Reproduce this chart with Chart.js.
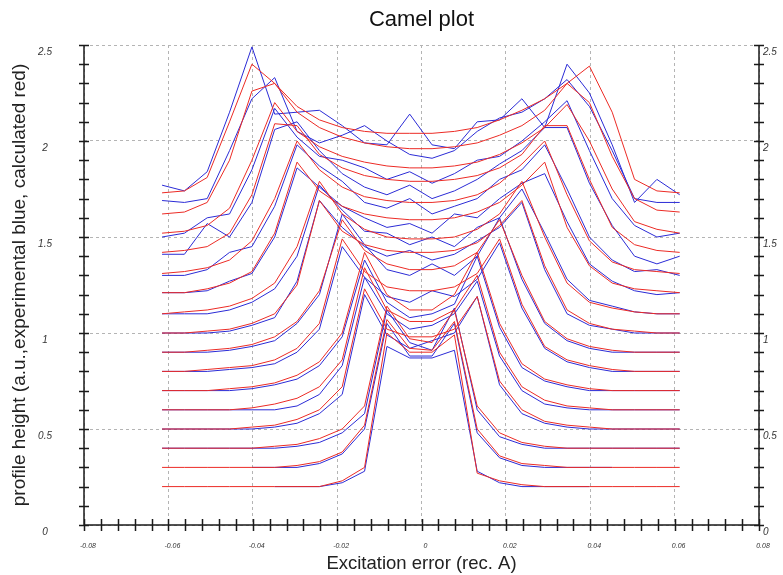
<!DOCTYPE html>
<html>
<head>
<meta charset="utf-8">
<script src="https://cdn.jsdelivr.net/npm/chart.js@4.4.1/dist/chart.umd.min.js"></script>
<style>
  html, body { margin: 0; padding: 0; background: #fff; }
  #wrap { width: 783px; height: 575px; }
</style>
</head>
<body>
<div id="wrap"><canvas id="camel"></canvas></div>
<script>
// excitation error sample positions (rec. A)
const xs = [-0.0615, -0.0562, -0.0508, -0.0455, -0.0402, -0.0348, -0.0295, -0.0242,
  -0.0188, -0.0135, -0.0082, -0.0028, 0.0025, 0.0078, 0.0132, 0.0185,
  0.0238, 0.0292, 0.0345, 0.0398, 0.0452, 0.0505, 0.0558, 0.0612];

const xTicks = [-0.08, -0.06, -0.04, -0.02, 0, 0.02, 0.04, 0.06, 0.08];
const yTicks = [0, 0.5, 1, 1.5, 2, 2.5];

// calculated profiles (red), bottom to top
const calc00 = [0.20, 0.20, 0.20, 0.20, 0.20, 0.20, 0.20, 0.20, 0.23, 0.30, 1.00, 0.90, 0.90, 0.99, 0.27, 0.23, 0.21, 0.20, 0.20, 0.20, 0.20, 0.20, 0.20, 0.20];
const calc01 = [0.30, 0.30, 0.30, 0.30, 0.30, 0.30, 0.31, 0.33, 0.38, 0.52, 1.07, 0.92, 0.91, 1.06, 0.50, 0.36, 0.32, 0.31, 0.30, 0.30, 0.30, 0.30, 0.30, 0.30];
const calc02 = [0.40, 0.40, 0.40, 0.40, 0.40, 0.41, 0.42, 0.45, 0.50, 0.62, 1.14, 0.97, 0.95, 1.12, 0.62, 0.48, 0.43, 0.41, 0.40, 0.40, 0.40, 0.40, 0.40, 0.40];
const calc03 = [0.50, 0.50, 0.50, 0.50, 0.51, 0.52, 0.55, 0.60, 0.72, 1.23, 1.02, 0.98, 0.98, 1.02, 1.19, 0.75, 0.60, 0.54, 0.52, 0.51, 0.50, 0.50, 0.50, 0.50];
const calc04 = [0.60, 0.60, 0.60, 0.60, 0.61, 0.63, 0.66, 0.72, 0.86, 1.34, 1.12, 1.06, 1.06, 1.12, 1.30, 0.90, 0.72, 0.65, 0.62, 0.61, 0.60, 0.60, 0.60, 0.60];
const calc05 = [0.70, 0.70, 0.70, 0.71, 0.72, 0.74, 0.78, 0.85, 1.00, 1.42, 1.20, 1.12, 1.12, 1.20, 1.42, 1.05, 0.84, 0.76, 0.73, 0.71, 0.70, 0.70, 0.70, 0.70];
const calc06 = [0.80, 0.80, 0.81, 0.82, 0.83, 0.86, 0.92, 1.05, 1.49, 1.32, 1.24, 1.22, 1.22, 1.24, 1.31, 1.49, 1.15, 0.93, 0.86, 0.83, 0.81, 0.80, 0.80, 0.80];
const calc07 = [0.90, 0.90, 0.91, 0.92, 0.94, 0.98, 1.06, 1.22, 1.59, 1.43, 1.36, 1.33, 1.33, 1.35, 1.42, 1.59, 1.30, 1.06, 0.97, 0.93, 0.91, 0.90, 0.90, 0.90];
const calc08 = [1.00, 1.00, 1.01, 1.02, 1.05, 1.10, 1.25, 1.69, 1.53, 1.46, 1.43, 1.42, 1.42, 1.43, 1.47, 1.56, 1.69, 1.35, 1.12, 1.05, 1.02, 1.01, 1.00, 1.00];
const calc09 = [1.10, 1.11, 1.12, 1.14, 1.18, 1.26, 1.45, 1.79, 1.62, 1.54, 1.50, 1.49, 1.49, 1.50, 1.54, 1.62, 1.79, 1.50, 1.26, 1.16, 1.13, 1.11, 1.10, 1.10];
const calc10 = [1.21, 1.21, 1.23, 1.26, 1.32, 1.52, 1.89, 1.74, 1.66, 1.62, 1.60, 1.59, 1.59, 1.60, 1.63, 1.68, 1.77, 1.89, 1.55, 1.35, 1.26, 1.23, 1.22, 1.21];
const calc11 = [1.31, 1.32, 1.34, 1.38, 1.48, 1.70, 2.00, 1.85, 1.76, 1.71, 1.69, 1.68, 1.68, 1.69, 1.72, 1.78, 1.88, 2.00, 1.72, 1.48, 1.37, 1.33, 1.32, 1.31];
const calc12 = [1.42, 1.43, 1.45, 1.52, 1.72, 2.09, 2.08, 1.93, 1.86, 1.82, 1.80, 1.79, 1.79, 1.80, 1.82, 1.86, 1.93, 2.08, 2.08, 1.80, 1.55, 1.46, 1.43, 1.42];
const calc13 = [1.52, 1.53, 1.56, 1.65, 1.90, 2.20, 2.05, 1.97, 1.92, 1.89, 1.87, 1.86, 1.86, 1.87, 1.89, 1.93, 1.99, 2.07, 2.19, 2.00, 1.75, 1.58, 1.54, 1.52];
const calc14 = [1.62, 1.63, 1.68, 1.90, 2.26, 2.30, 2.15, 2.07, 2.02, 1.99, 1.97, 1.96, 1.96, 1.97, 1.99, 2.03, 2.08, 2.16, 2.30, 2.20, 1.92, 1.70, 1.64, 1.63];
const calc15 = [1.73, 1.74, 1.81, 2.10, 2.40, 2.30, 2.18, 2.11, 2.07, 2.05, 2.04, 2.04, 2.04, 2.05, 2.07, 2.11, 2.16, 2.22, 2.30, 2.39, 2.15, 1.80, 1.74, 1.73];

// experimental profiles (blue), bottom to top
const expt00 = [null, null, null, null, null, 0.20, 0.20, 0.20, 0.22, 0.28, 0.93, 0.87, 0.87, 0.91, 0.28, 0.22, 0.20, 0.20, 0.20, 0.20, null, null, null, null];
const expt01 = [null, null, null, null, 0.30, 0.30, 0.30, 0.32, 0.37, 0.50, 1.05, 0.88, 0.88, 1.05, 0.48, 0.35, 0.31, 0.30, 0.30, 0.30, 0.30, null, null, null];
const expt02 = [0.40, 0.40, 0.40, 0.40, 0.40, 0.40, 0.41, 0.43, 0.48, 0.58, 1.12, 0.95, 0.91, 1.13, 0.60, 0.46, 0.42, 0.40, 0.40, 0.40, 0.40, 0.40, 0.40, 0.40];
const expt03 = [0.50, 0.50, 0.50, 0.50, 0.50, 0.51, 0.53, 0.58, 0.68, 1.20, 0.99, 0.92, 0.96, 1.00, 1.19, 0.73, 0.58, 0.53, 0.51, 0.50, 0.50, 0.50, 0.50, 0.50];
const expt04 = [0.60, 0.60, 0.60, 0.60, 0.60, 0.60, 0.62, 0.68, 0.83, 1.29, 1.10, 1.02, 1.04, 1.10, 1.27, 0.88, 0.70, 0.63, 0.61, 0.60, 0.60, 0.60, 0.60, 0.60];
const expt05 = [0.70, 0.70, 0.70, 0.70, 0.71, 0.73, 0.76, 0.83, 0.98, 1.38, 1.16, 1.08, 1.10, 1.15, 1.40, 1.03, 0.82, 0.75, 0.72, 0.70, 0.70, 0.70, 0.70, 0.70];
const expt06 = [0.80, 0.80, 0.80, 0.81, 0.82, 0.84, 0.90, 1.02, 1.45, 1.29, 1.19, 1.16, 1.22, 1.19, 1.28, 1.47, 1.13, 0.92, 0.85, 0.82, 0.80, 0.80, 0.80, 0.80];
const expt07 = [0.90, 0.90, 0.90, 0.91, 0.93, 0.96, 1.05, 1.20, 1.62, 1.46, 1.33, 1.30, 1.36, 1.30, 1.40, 1.60, 1.28, 1.05, 0.96, 0.92, 0.90, 0.90, 0.90, 0.90];
const expt08 = [1.00, 1.00, 1.00, 1.01, 1.04, 1.08, 1.27, 1.69, 1.55, 1.45, 1.40, 1.43, 1.38, 1.41, 1.48, 1.55, 1.68, 1.33, 1.10, 1.04, 1.02, 1.00, 1.00, 1.00];
const expt09 = [1.10, 1.10, 1.10, 1.12, 1.16, 1.23, 1.40, 1.77, 1.64, 1.53, 1.52, 1.46, 1.50, 1.45, 1.55, 1.60, 1.75, 1.52, 1.28, 1.17, 1.14, 1.11, 1.10, 1.10];
const expt10 = [1.21, 1.21, 1.22, 1.27, 1.31, 1.50, 1.86, 1.76, 1.66, 1.60, 1.55, 1.57, 1.52, 1.62, 1.60, 1.70, 1.78, 1.83, 1.58, 1.36, 1.27, 1.22, 1.20, 1.21];
const expt11 = [1.30, 1.30, 1.33, 1.42, 1.45, 1.66, 1.98, 1.87, 1.79, 1.68, 1.65, 1.70, 1.62, 1.66, 1.70, 1.80, 1.85, 1.98, 1.75, 1.50, 1.38, 1.32, 1.33, 1.30];
const expt12 = [1.41, 1.41, 1.57, 1.50, 1.68, 2.06, 2.10, 1.95, 1.83, 1.76, 1.72, 1.77, 1.70, 1.74, 1.80, 1.88, 1.95, 2.07, 2.07, 1.78, 1.56, 1.40, 1.36, 1.40];
const expt13 = [1.50, 1.52, 1.60, 1.62, 1.85, 2.17, 2.02, 1.92, 1.90, 1.86, 1.80, 1.84, 1.78, 1.83, 1.90, 1.92, 2.00, 2.10, 2.21, 1.95, 1.70, 1.56, 1.50, 1.52];
const expt14 = [1.69, 1.68, 1.70, 1.95, 2.22, 2.33, 2.05, 1.99, 2.03, 2.08, 2.00, 1.93, 1.91, 1.95, 2.05, 2.12, 2.15, 2.22, 2.32, 2.18, 1.95, 1.70, 1.68, 1.68];
const expt15 = [1.77, 1.74, 1.84, 2.15, 2.49, 2.14, 2.15, 2.16, 2.08, 1.99, 1.98, 2.14, 1.98, 1.96, 2.10, 2.11, 2.22, 2.07, 2.40, 2.25, 1.98, 1.68, 1.80, 1.72];

const calcSeries = [calc00, calc01, calc02, calc03, calc04, calc05, calc06, calc07,
  calc08, calc09, calc10, calc11, calc12, calc13, calc14, calc15];
const exptSeries = [expt00, expt01, expt02, expt03, expt04, expt05, expt06, expt07,
  expt08, expt09, expt10, expt11, expt12, expt13, expt14, expt15];

const FONT = "'Liberation Sans', Arial, sans-serif";
const RED = "#ec2b25";
const BLUE = "#2b2bd6";
const GRID = "#b4b4b4";

function toPoints(values) {
  const pts = [];
  values.forEach((v, i) => {
    if (v !== null) pts.push({ x: xs[i], y: v });
  });
  return pts;
}

const datasets = [];
calcSeries.forEach((s, i) => {
  datasets.push({
    label: "calc " + i,
    data: toPoints(s),
    borderColor: RED,
    borderWidth: 1,
    pointRadius: 0,
    tension: 0,
  });
});
exptSeries.forEach((s, i) => {
  datasets.push({
    label: "expt " + i,
    data: toPoints(s),
    borderColor: BLUE,
    borderWidth: 1,
    pointRadius: 0,
    tension: 0,
  });
});

// solid axes with the small cross ticks
const axisFrame = {
  id: "axisFrame",
  afterDatasetsDraw(chart) {
    const { ctx, chartArea: a, scales: { x, y } } = chart;
    ctx.save();
    ctx.strokeStyle = "#1a1a1a";
    ctx.lineWidth = 1.5;
    ctx.beginPath();
    ctx.moveTo(a.left, a.top);
    ctx.lineTo(a.left, a.bottom);
    ctx.lineTo(a.right, a.bottom);
    ctx.lineTo(a.right, a.top);
    for (let i = 0; i <= 25; i++) {
      const py = Math.round(y.getPixelForValue(i / 10)) + 0.5;
      ctx.moveTo(a.left - 5, py);
      ctx.lineTo(a.left + 5, py);
      ctx.moveTo(a.right - 5, py);
      ctx.lineTo(a.right + 5, py);
    }
    for (let i = 0; i <= 40; i++) {
      const px = Math.round(x.getPixelForValue(-0.08 + i * 0.004)) + 0.5;
      ctx.moveTo(px, a.bottom - 6);
      ctx.lineTo(px, a.bottom + 6);
    }
    ctx.stroke();
    ctx.restore();
  },
};

new Chart(document.getElementById("camel"), {
  type: "line",
  data: { datasets: datasets },
  options: {
    responsive: true,
    maintainAspectRatio: false,
    animation: false,
    devicePixelRatio: 1,
    layout: { padding: 0 },
    scales: {
      x: {
        type: "linear",
        position: "bottom",
        min: -0.08,
        max: 0.08,
        afterBuildTicks: (s) => {
          s.ticks = xTicks.map((v) => ({ value: v }));
        },
        afterFit: (s) => {
          s.height = 50;
        },
        grid: { color: GRID, lineWidth: 1, drawTicks: false },
        border: { display: false, dash: [3, 3] },
        ticks: {
          autoSkip: false,
          maxRotation: 0,
          padding: 17,
          labelOffset: 4,
          color: "#333",
          font: { family: FONT, size: 7, style: "italic" },
          callback: (v) => (v === 0 ? "0" : v.toFixed(2)),
        },
        title: {
          display: true,
          text: "Excitation error (rec. A)",
          color: "#222",
          font: { family: FONT, size: 18.5 },
          padding: { top: 0, bottom: 0 },
        },
      },
      xTop: {
        type: "linear",
        position: "top",
        min: -0.08,
        max: 0.08,
        afterFit: (s) => {
          s.height = 45;
        },
        grid: { display: false },
        border: { display: false },
        ticks: { display: false },
        title: {
          display: true,
          text: "Camel plot",
          color: "#111",
          font: { family: FONT, size: 22 },
          padding: { top: 7, bottom: 0 },
        },
      },
      y: {
        type: "linear",
        position: "left",
        min: 0,
        max: 2.5,
        afterBuildTicks: (s) => {
          s.ticks = yTicks.map((v) => ({ value: v }));
        },
        afterFit: (s) => {
          s.width = 84;
        },
        grid: { color: GRID, lineWidth: 1, drawTicks: false },
        border: { display: false, dash: [3, 3] },
        ticks: {
          crossAlign: "center",
          padding: 32,
          labelOffset: 7,
          color: "#333",
          font: { family: FONT, size: 10, style: "italic" },
          callback: (v) => String(v),
        },
        title: {
          display: true,
          text: "profile height (a.u.,experimental blue, calculated red)",
          color: "#222",
          font: { family: FONT, size: 19 },
          padding: { top: 8, bottom: 0 },
        },
      },
      yRight: {
        type: "linear",
        position: "right",
        min: 0,
        max: 2.5,
        afterBuildTicks: (s) => {
          s.ticks = yTicks.map((v) => ({ value: v }));
        },
        afterFit: (s) => {
          s.width = 24;
        },
        grid: { display: false, drawTicks: false },
        border: { display: false },
        ticks: {
          crossAlign: "near",
          padding: 4,
          labelOffset: 7,
          color: "#333",
          font: { family: FONT, size: 10, style: "italic" },
          callback: (v) => String(v),
        },
      },
    },
    plugins: {
      legend: { display: false },
      tooltip: { enabled: false },
    },
  },
  plugins: [axisFrame],
});
</script>
</body>
</html>
